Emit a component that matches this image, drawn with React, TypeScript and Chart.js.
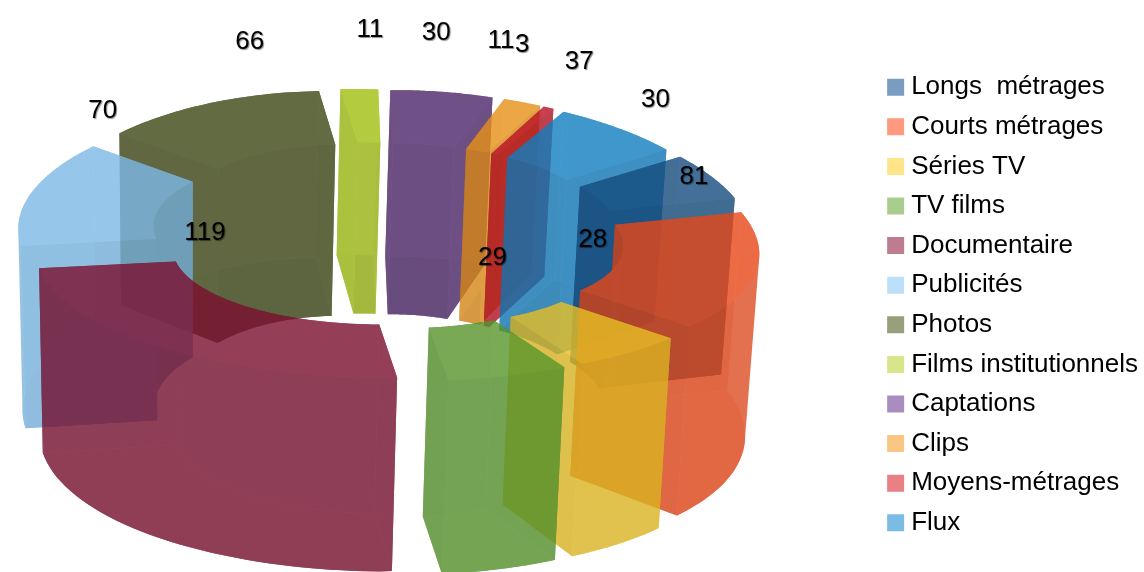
import React, { useEffect, useRef } from "react";
import { Chart, registerables } from "chart.js";

Chart.register(...registerables);

const categories = ["Longs  métrages", "Courts métrages", "Séries TV", "TV films", "Documentaire", "Publicités", "Photos", "Films institutionnels", "Captations", "Clips", "Moyens-métrages", "Flux"];
const values = [30, 81, 28, 29, 119, 70, 66, 11, 30, 11, 3, 37];
const sliceColors = ["#134a7c", "#e24516", "#e2ba23", "#569229", "#770f2e", "#79b5e2", "#3b4513", "#9cba10", "#4b2468", "#e28d16", "#b61023", "#107aba"];
const legendColors = ["#7a9cc0", "#ff9a7e", "#ffe48a", "#a8cd8c", "#bd7c90", "#bde0fa", "#96a07a", "#d8e58a", "#a98cc0", "#fbc683", "#e88085", "#7cbce4"];

const FONT = "'Liberation Sans', Arial, sans-serif";
const CX = 388, CY = 236, R = 316, KY = 0.395, H = 180, HP = 12, KP = 0.09, SHEAR = 0.045;
const LX = 393, LY = 147, LA = 302, LB = 116, LK = 0.12, LSHEAR = 0.05;

type Pt = [number, number];

function shade(hex: string, f: number) {
  const n = parseInt(hex.slice(1), 16);
  const c = [(n >> 16) & 255, (n >> 8) & 255, n & 255].map((v) => Math.round(Math.min(255, v * f)));
  return `rgb(${c[0]},${c[1]},${c[2]})`;
}

const ring3d = {
  id: "ring3d",
  beforeDatasetDraw() {
    return false;
  },
  afterDatasetsDraw(chart: any) {
    const arcs = chart.getDatasetMeta(0).data as any[];
    const ctx = chart.ctx as CanvasRenderingContext2D;
    const order = arcs.map((_, i) => i).sort((a, b) => {
      const m = (k: number) => (arcs[k].startAngle + arcs[k].endAngle) / 2;
      return Math.sin(m(a)) - Math.sin(m(b));
    });
    const w = chart.canvas.width, h = chart.canvas.height;
    const ratio = w / chart.width;
    for (const i of order) {
      const a = arcs[i];
      const unit = R / a.outerRadius;
      const rOut = R;
      const rIn = a.innerRadius * unit;
      const off = (a.options.offset || 0) * unit;
      const mid = (a.startAngle + a.endAngle) / 2;
      const P = (r: number, t: number, z: number): Pt => {
        const X = r * Math.cos(t) + off * Math.cos(mid);
        const Y = r * Math.sin(t) + off * Math.sin(mid);
        return [
          CX + X * (1 + (KP * Y) / R) * (1 - 0.025 * z) - 5 * z,
          CY + Y * KY + SHEAR * Math.min(X, 0) + z * (H + (HP * Y) / R),
        ];
      };
      const arcPts = (r: number, z: number, rev = false) => {
        const pts: Pt[] = [];
        const n = 40;
        for (let k = 0; k <= n; k++) {
          const u = rev ? 1 - k / n : k / n;
          pts.push(P(r, a.startAngle + (a.endAngle - a.startAngle) * u, z));
        }
        return pts;
      };
      const off2 = document.createElement("canvas");
      off2.width = w;
      off2.height = h;
      const g = off2.getContext("2d") as CanvasRenderingContext2D;
      g.scale(ratio, ratio);
      const base = sliceColors[i];
      const paint = (f: number) => {
        g.globalAlpha = 0.94;
        g.fillStyle = shade(base, f);
        g.fill();
      };
      const trace = (pts: Pt[]) => {
        pts.forEach((p, k) => (k ? g.lineTo(p[0], p[1]) : g.moveTo(p[0], p[1])));
        g.closePath();
      };
      const face = (pts: Pt[], f: number) => {
        g.beginPath();
        trace(pts);
        paint(f);
      };
      // A curved wall is a strip of quads, all wound the same way, so that its
      // filled outline is the whole area swept between the two arcs.
      const wall = (r: number, f: number) => {
        const t0 = arcPts(r, 0);
        const t1 = arcPts(r, 1);
        g.beginPath();
        for (let k = 0; k < t0.length - 1; k++) {
          const q: Pt[] = [t0[k], t0[k + 1], t1[k + 1], t1[k]];
          let area = 0;
          q.forEach((p, n) => {
            const o = q[(n + 1) % 4];
            area += p[0] * o[1] - o[0] * p[1];
          });
          trace(area < 0 ? q.reverse() : q);
        }
        paint(f);
      };
      face([...arcPts(rOut, 1), ...arcPts(rIn, 1, true)], 1);
      wall(rIn, 0.9);
      face([P(rOut, a.startAngle, 0), P(rIn, a.startAngle, 0), P(rIn, a.startAngle, 1), P(rOut, a.startAngle, 1)], 0.95);
      face([P(rOut, a.endAngle, 0), P(rIn, a.endAngle, 0), P(rIn, a.endAngle, 1), P(rOut, a.endAngle, 1)], 0.95);
      wall(rOut, 0.97);
      face([...arcPts(rOut, 0), ...arcPts(rIn, 0, true)], 1.03);
      ctx.save();
      ctx.setTransform(1, 0, 0, 1, 0, 0);
      ctx.globalAlpha = 0.8;
      ctx.drawImage(off2, 0, 0);
      ctx.restore();
    }
    ctx.save();
    ctx.font = `26px ${FONT}`;
    ctx.textAlign = "center";
    ctx.textBaseline = "middle";
    ctx.fillStyle = "#000";
    ctx.shadowColor = "rgba(0,0,0,0.45)";
    ctx.shadowOffsetX = 1;
    ctx.shadowOffsetY = 1;
    ctx.shadowBlur = 1;
    arcs.forEach((a, i) => {
      const mid = (a.startAngle + a.endAngle) / 2;
      const s = Math.sin(mid);
      const X = LA * Math.cos(mid) * (1 + LK * s);
      ctx.fillText(String(values[i]), LX + X, LY + LB * s + LSHEAR * Math.min(X, 0));
    });
    ctx.restore();
  },
};

export default function App() {
  const ref = useRef<HTMLCanvasElement>(null);
  useEffect(() => {
    const chart = new Chart(ref.current as HTMLCanvasElement, {
      type: "doughnut",
      data: {
        labels: categories,
        datasets: [{ data: values, backgroundColor: legendColors, offset: 42, borderWidth: 0, cutout: "57.5%" } as any],
      },
      options: {
        responsive: false,
        animation: false,
        rotation: 55.5,
        layout: { padding: { top: 38, right: -4 } },
        plugins: {
          tooltip: { enabled: false },
          legend: {
            position: "right",
            labels: {
              usePointStyle: true,
              pointStyle: "rect",
              boxWidth: 5,
              boxHeight: 17,
              padding: 13.6,
              color: "#000",
              font: { family: FONT, size: 26 },
            },
          },
        },
      } as any,
      plugins: [ring3d as any],
    });
    return () => chart.destroy();
  }, []);
  return (
    <div style={{ position: "fixed", left: 0, top: 0, width: 1144, height: 572, background: "#fff" }}>
      <canvas ref={ref} width={1144} height={572} style={{ display: "block" }} />
    </div>
  );
}
